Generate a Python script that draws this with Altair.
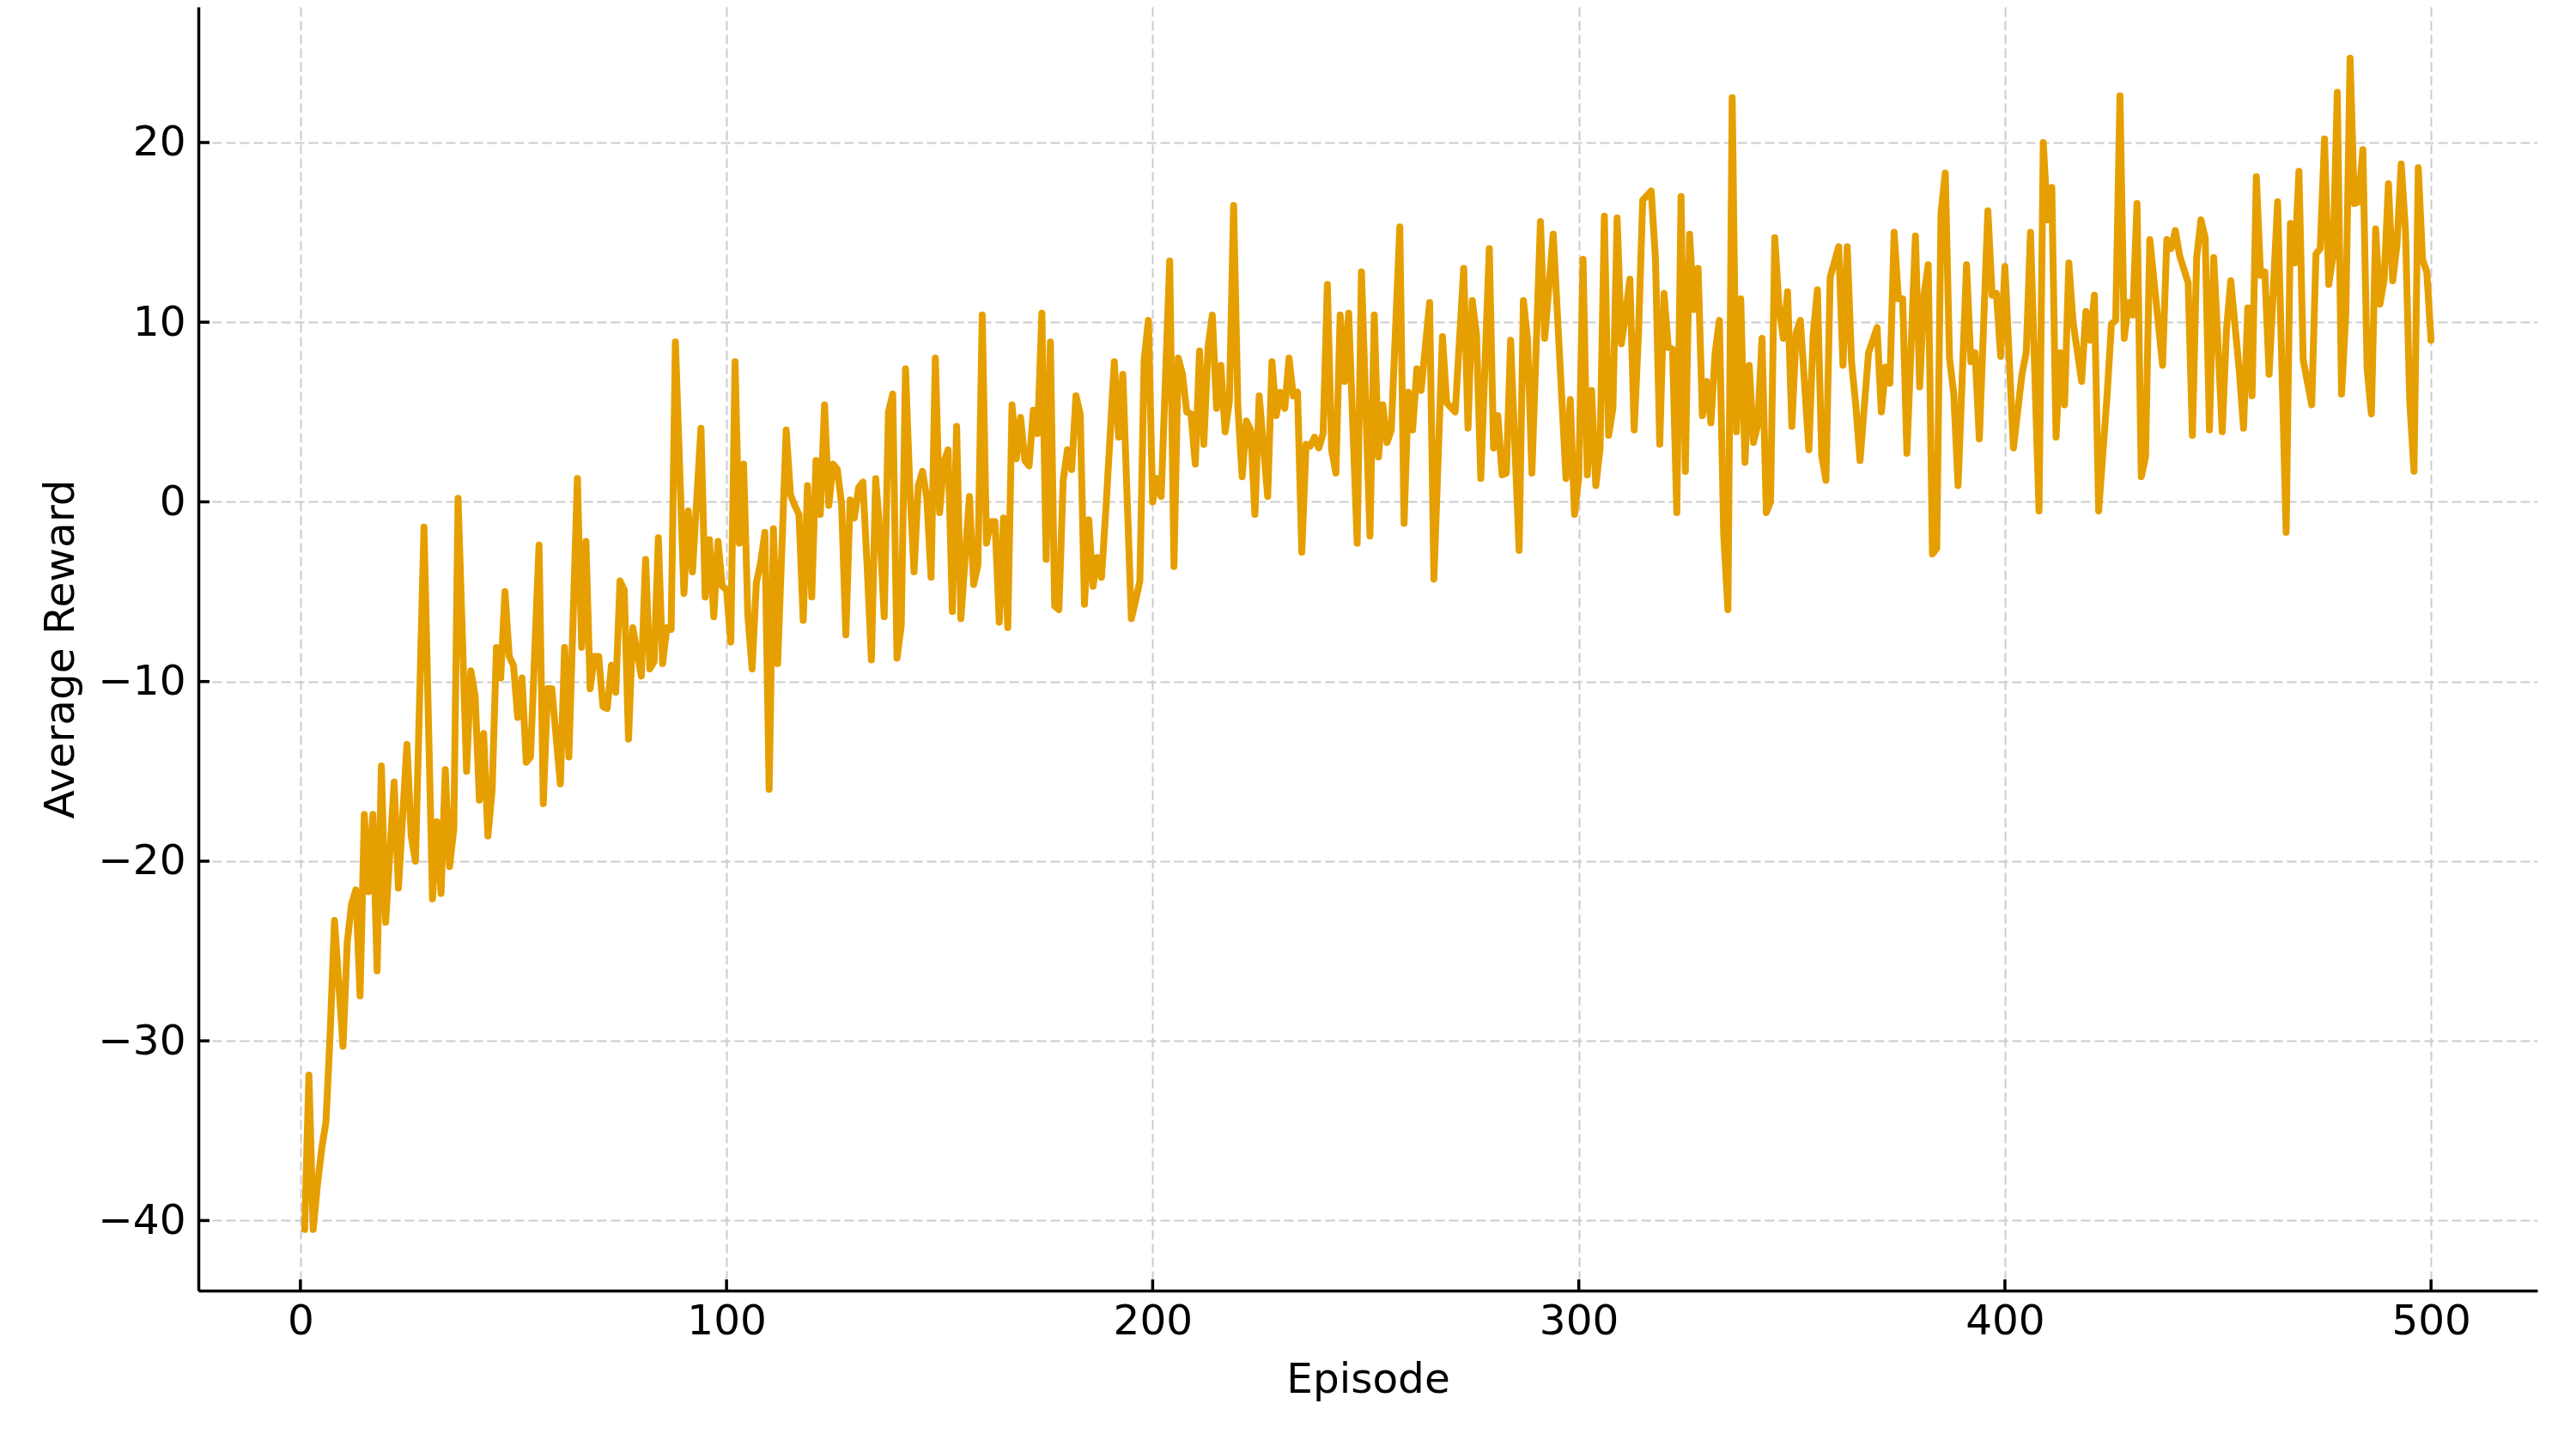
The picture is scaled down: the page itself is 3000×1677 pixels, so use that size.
import altair as alt
import pandas as pd

# ---- data (turning points of the curve) ----
episodes = [
    1, 2, 3, 4, 5, 6, 7, 8, 10, 11, 12, 13, 14, 15, 16, 17, 18, 19, 20, 22,
    23, 25, 26, 27, 29, 31, 32, 33, 34, 35, 36, 37, 39, 40, 41, 42, 43, 44, 45, 46,
    47, 48, 49, 50, 51, 52, 53, 54, 56, 57, 58, 59, 61, 62, 63, 65, 66, 67, 68, 69,
    70, 71, 72, 73, 74, 75, 76, 77, 78, 80, 81, 82, 83, 84, 85, 86, 87, 88, 90, 91,
    92, 94, 95, 96, 97, 98, 99, 100, 101, 102, 103, 104, 105, 106, 107, 108, 109, 110, 111, 112,
    114, 115, 116, 117, 118, 119, 120, 121, 122, 123, 124, 125, 126, 127, 128, 129, 130, 131, 132, 133,
    134, 135, 136, 137, 138, 139, 140, 141, 142, 143, 144, 145, 146, 147, 148, 149, 150, 151, 152, 153,
    154, 155, 157, 158, 159, 160, 161, 162, 163, 164, 165, 166, 167, 168, 169, 170, 171, 172, 173, 174,
    175, 176, 177, 178, 179, 180, 181, 182, 183, 184, 185, 186, 187, 188, 189, 190, 191, 192, 193, 195,
    196, 197, 198, 199, 200, 201, 202, 204, 205, 206, 207, 208, 209, 210, 211, 212, 213, 214, 215, 216,
    217, 218, 219, 220, 221, 222, 223, 224, 225, 227, 228, 229, 230, 231, 232, 233, 234, 235, 236, 237,
    238, 239, 240, 241, 242, 243, 244, 245, 246, 248, 249, 251, 252, 253, 254, 255, 256, 258, 259, 260,
    261, 262, 263, 265, 266, 268, 269, 271, 273, 274, 275, 276, 277, 279, 280, 281, 282, 283, 284, 286,
    287, 288, 289, 291, 292, 294, 297, 298, 299, 300, 301, 302, 303, 304, 305, 306, 307, 308, 309, 310,
    311, 312, 313, 314, 315, 317, 318, 319, 320, 321, 322, 323, 324, 325, 326, 327, 328, 329, 330, 331,
    332, 333, 334, 335, 336, 337, 338, 339, 340, 341, 342, 343, 344, 345, 346, 347, 348, 349, 350, 351,
    352, 354, 355, 356, 357, 358, 359, 361, 362, 363, 364, 365, 366, 368, 370, 371, 372, 373, 374, 375,
    376, 377, 379, 380, 381, 382, 383, 384, 385, 386, 387, 388, 389, 391, 392, 393, 394, 396, 397, 398,
    399, 400, 402, 404, 405, 406, 408, 409, 410, 411, 412, 413, 414, 415, 416, 418, 419, 420, 421, 422,
    424, 425, 426, 427, 428, 429, 430, 431, 432, 433, 434, 437, 438, 439, 440, 441, 443, 444, 445, 446,
    447, 448, 449, 451, 452, 453, 455, 456, 457, 458, 459, 460, 461, 462, 464, 466, 467, 468, 469, 470,
    472, 473, 474, 475, 476, 477, 478, 479, 480, 481, 482, 483, 484, 485, 486, 487, 488, 489, 490, 491,
    492, 493, 494, 495, 496, 497, 498, 499, 500,
]
rewards = [
    -40.5, -31.9, -40.5, -38.0, -36.0, -34.5, -29.5, -23.3, -30.3, -24.5, -22.4, -21.6, -27.5, -17.4, -21.7, -17.4, -26.1, -14.7, -23.4, -15.6,
    -21.5, -13.5, -18.6, -20.0, -1.4, -22.1, -17.8, -21.8, -14.9, -20.3, -18.2, 0.2, -15.0, -9.4, -10.8, -16.6, -12.9, -18.6, -16.0, -8.1,
    -9.8, -5.0, -8.6, -9.1, -12.0, -9.8, -14.5, -14.2, -2.4, -16.8, -10.4, -10.4, -15.7, -8.1, -14.2, 1.3, -8.1, -2.2, -10.4, -8.6,
    -8.6, -11.4, -11.5, -9.1, -10.6, -4.4, -4.9, -13.2, -7.0, -9.7, -3.2, -9.3, -8.9, -2.0, -9.0, -7.0, -7.1, 8.9, -5.1, -0.5,
    -3.9, 4.1, -5.3, -2.1, -6.4, -2.2, -4.7, -4.9, -7.8, 7.8, -2.3, 2.1, -6.3, -9.3, -4.5, -3.4, -1.7, -16.0, -1.5, -9.0,
    4.0, 0.4, -0.2, -0.7, -6.6, 0.9, -5.3, 2.3, -0.7, 5.4, -0.2, 2.1, 1.8, -0.1, -7.4, 0.1, -0.9, 0.8, 1.1, -3.6,
    -8.8, 1.3, -1.7, -6.4, 5.0, 6.0, -8.7, -6.9, 7.4, 0.9, -3.9, 0.9, 1.7, 0.2, -4.2, 8.0, -0.6, 2.2, 2.9, -6.1,
    4.2, -6.5, 0.3, -4.6, -3.5, 10.4, -2.3, -1.1, -1.1, -6.7, -0.9, -7.0, 5.4, 2.4, 4.7, 2.3, 2.0, 5.1, 3.8, 10.5,
    -3.2, 8.9, -5.8, -6.0, 1.2, 2.9, 1.8, 5.9, 4.9, -5.7, -1.0, -4.7, -3.1, -4.2, -0.5, 3.6, 7.8, 3.6, 7.1, -6.5,
    -5.5, -4.4, 7.9, 10.1, 0.0, 1.3, 0.3, 13.4, -3.6, 8.0, 7.1, 5.0, 4.9, 2.1, 8.4, 3.2, 8.6, 10.4, 5.2, 7.6,
    3.9, 5.6, 16.5, 5.3, 1.4, 4.5, 4.0, -0.7, 5.9, 0.3, 7.8, 4.8, 6.1, 5.2, 8.0, 5.9, 6.1, -2.8, 3.2, 3.1,
    3.6, 3.0, 3.8, 12.1, 2.9, 1.6, 10.4, 6.7, 10.5, -2.3, 12.8, -1.9, 10.4, 2.5, 5.4, 3.3, 4.0, 15.3, -1.2, 6.1,
    4.0, 7.4, 6.2, 11.1, -4.3, 9.2, 5.5, 5.0, 13.0, 4.1, 11.2, 9.3, 1.3, 14.1, 3.0, 4.8, 1.5, 1.6, 9.0, -2.7,
    11.2, 9.0, 1.6, 15.6, 9.1, 14.9, 1.3, 5.7, -0.7, 1.4, 13.5, 1.5, 6.2, 0.9, 3.0, 15.9, 3.7, 5.2, 15.8, 8.8,
    10.5, 12.4, 4.0, 9.3, 16.8, 17.3, 13.5, 3.2, 11.6, 8.6, 8.5, -0.6, 17.0, 1.7, 14.9, 10.7, 13.0, 4.8, 6.7, 4.4,
    8.3, 10.1, -1.8, -6.0, 22.5, 3.9, 11.3, 2.2, 7.6, 3.3, 4.3, 9.1, -0.6, 0.0, 14.7, 10.8, 9.1, 11.7, 4.2, 9.4,
    10.1, 2.9, 9.3, 11.8, 2.6, 1.2, 12.5, 14.2, 7.6, 14.2, 7.8, 5.4, 2.3, 8.3, 9.7, 5.0, 7.5, 6.6, 15.0, 11.3,
    11.3, 2.7, 14.8, 6.4, 11.5, 13.2, -2.9, -2.6, 16.1, 18.3, 8.0, 6.0, 0.9, 13.2, 7.8, 8.3, 3.5, 16.2, 11.5, 11.6,
    8.1, 13.1, 3.0, 7.1, 8.3, 15.0, -0.5, 20.0, 15.7, 17.5, 3.6, 8.3, 5.4, 13.3, 10.0, 6.7, 10.6, 9.0, 11.5, -0.5,
    6.0, 9.9, 10.1, 22.6, 9.1, 11.1, 10.4, 16.6, 1.4, 2.5, 14.6, 7.6, 14.6, 14.1, 15.1, 13.7, 12.2, 3.7, 13.6, 15.7,
    14.7, 4.0, 13.6, 3.9, 9.6, 12.3, 7.3, 4.1, 10.8, 5.9, 18.1, 12.6, 12.8, 7.1, 16.7, -1.7, 15.5, 13.3, 18.4, 7.9,
    5.4, 13.8, 14.1, 20.2, 12.1, 13.7, 22.8, 6.0, 10.5, 24.7, 16.6, 16.7, 19.6, 7.4, 4.9, 15.2, 11.0, 12.4, 17.7, 12.3,
    14.3, 18.8, 15.1, 5.6, 1.7, 18.6, 13.5, 12.8, 9.0,
]
x_ticks = [0, 100, 200, 300, 400, 500]
y_ticks = [-40, -30, -20, -10, 0, 10, 20]

df = pd.DataFrame({"Episode": episodes, "Average Reward": rewards})

W, H = 2724, 1495
FONT = "DejaVu Sans"
FS = 48.5
INK = "#000000"

x_scale = alt.Scale(domain=[-23.95, 524.95], nice=False, zero=False)
y_scale = alt.Scale(domain=[-43.9, 27.55], nice=False, zero=False)

x_axis = alt.Axis(
    values=x_ticks, grid=True, gridColor="#cccccc", gridDash=[11, 5], gridWidth=2,
    ticks=False, tickSize=0, domain=True, domainColor=INK, domainWidth=3.5,
    labelFont=FONT, labelFontSize=FS, labelColor=INK, labelPadding=12,
    labelFlush=False, labelOverlap=False,
    title="Episode", titleFont=FONT, titleFontSize=FS, titleFontWeight="normal",
    titleColor=INK, titleBaseline="alphabetic", titleY=118,
)
y_axis = alt.Axis(
    values=y_ticks, grid=True, gridColor="#cccccc", gridDash=[11, 5], gridWidth=2,
    ticks=False, tickSize=0, domain=True, domainColor=INK, domainWidth=3.5,
    labelFont=FONT, labelFontSize=FS, labelColor=INK, labelPadding=15,
    labelFlush=False, labelOverlap=False,
    title="Average Reward", titleFont=FONT, titleFontSize=FS, titleFontWeight="normal",
    titleColor=INK, titleBaseline="alphabetic", titleX=-146,
)

line = alt.Chart(df).mark_line(
    color="#E69F00", strokeWidth=8, strokeJoin="round", strokeCap="round"
).encode(
    x=alt.X("Episode:Q", scale=x_scale, axis=x_axis),
    y=alt.Y("Average Reward:Q", scale=y_scale, axis=y_axis),
)

# inward tick marks (matplotlib style)
xtick_marks = alt.Chart(pd.DataFrame({"Episode": x_ticks})).mark_rule(
    color=INK, strokeWidth=3.5
).encode(
    x=alt.X("Episode:Q", scale=x_scale, axis=x_axis),
    y=alt.value(H),
    y2=alt.value(H - 13),
)
ytick_marks = alt.Chart(pd.DataFrame({"Average Reward": y_ticks})).mark_rule(
    color=INK, strokeWidth=3.5
).encode(
    y=alt.Y("Average Reward:Q", scale=y_scale, axis=y_axis),
    x=alt.value(0),
    x2=alt.value(13),
)

chart = alt.layer(line, xtick_marks, ytick_marks).properties(
    width=W,
    height=H,
    autosize=alt.AutoSizeParams(type="none"),
    padding={"left": 223, "top": 0, "right": 30, "bottom": 160},
    background="white",
).configure_view(stroke="transparent")

chart.save("out.html", embed_options={"renderer": "svg", "actions": False})
